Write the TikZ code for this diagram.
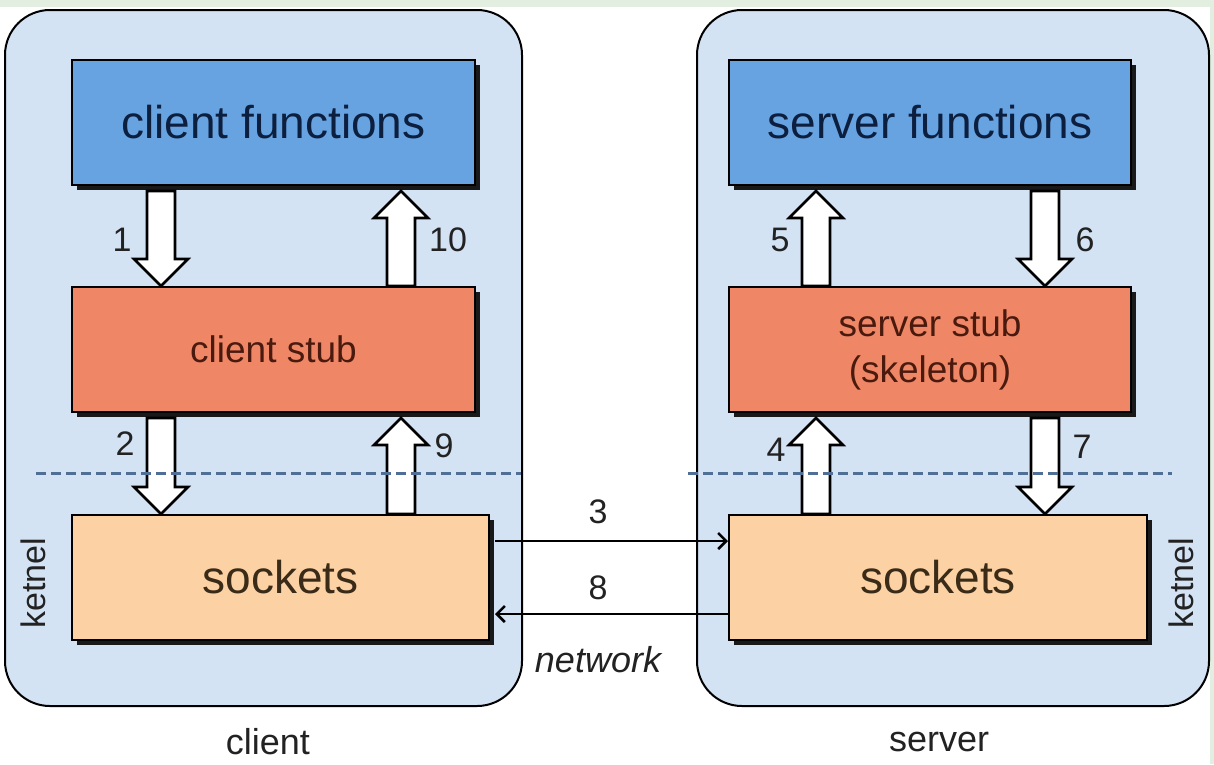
\documentclass[tikz,border=0pt]{standalone}
\usepackage{fontspec}
\setmainfont{Liberation Sans}
\usetikzlibrary{calc,shadows,arrows.meta}
\definecolor{contfill}{HTML}{D4E3F4}
\definecolor{funcfill}{HTML}{67A3E1}
\definecolor{stubfill}{HTML}{EF8767}
\definecolor{sockfill}{HTML}{FCD1A3}
\definecolor{functext}{HTML}{0D1F3F}
\definecolor{stubtext}{HTML}{4A1A0E}
\definecolor{socktext}{HTML}{3A2A18}
\definecolor{labeltext}{HTML}{222222}
\definecolor{dashcol}{HTML}{4F6F96}
\definecolor{topband}{HTML}{E2EFE0}
\newcommand\blkdown[2]{\draw[blk] let \p1=(#1), \p2=(#2) in
  (\x1-14pt,\y1) -- (\x1+14pt,\y1) -- (\x1+14pt,\y2+27pt) -- (\x1+27pt,\y2+27pt)
  -- (\x1,\y2) -- (\x1-27pt,\y2+27pt) -- (\x1-14pt,\y2+27pt) -- cycle;}
\newcommand\blkup[2]{\draw[blk] let \p1=(#1), \p2=(#2) in
  (\x1-14pt,\y1) -- (\x1+14pt,\y1) -- (\x1+14pt,\y2-27pt) -- (\x1+27pt,\y2-27pt)
  -- (\x1,\y2) -- (\x1-27pt,\y2-27pt) -- (\x1-14pt,\y2-27pt) -- cycle;}
\begin{document}
\begin{tikzpicture}[x=1pt,y=-1pt,
  container/.style={draw=black, line width=2pt, fill=contfill, rounded corners=45pt, inner sep=0pt},
  box/.style={draw=black, line width=2pt, inner sep=0pt, minimum height=125pt,
    drop shadow={shadow xshift=5pt, shadow yshift=-5pt, fill=black!90, opacity=1}},
  funcbox/.style={box, fill=funcfill, text=functext, minimum width=403pt, font=\fontsize{46}{52}\selectfont},
  stubbox/.style={box, fill=stubfill, text=stubtext, minimum width=403pt, align=center, font=\fontsize{37}{46}\selectfont},
  sockbox/.style={box, fill=sockfill, text=socktext, minimum width=417pt, font=\fontsize{46}{52}\selectfont},
  blk/.style={draw=black, line width=2.6pt, fill=white, line join=miter},
  num/.style={text=labeltext, font=\fontsize{34}{38}\selectfont, inner sep=0pt},
  lbl/.style={text=labeltext, font=\fontsize{36}{40}\selectfont, inner sep=0pt},
  kernel/.style={lbl, rotate=90, font=\fontsize{34}{38}\selectfont},
  netarrow/.style={draw=black, line width=2.6pt, -{Straight Barb[length=8pt,width=16pt,line width=2.6pt]}},
  divider/.style={draw=dashcol, line width=3pt, dash pattern=on 10pt off 5pt}
]
\useasboundingbox (0,0) rectangle (1214,764);
\fill[topband] (0,0) rectangle (1214,7);
\fill[topband] (1210,0) rectangle (1214,764);

% containers
\node[container, minimum width=517pt, minimum height=696pt] (cc) at (263.5,358) {};
\node[container, minimum width=512pt, minimum height=696pt] (sc) at (953,358) {};

% client boxes
\node[funcbox] (cf) at (273.5,122.5) {client functions};
\node[stubbox] (cs) at (273.5,349.5) {client stub};
\node[sockbox, minimum width=417pt] (csk) at (280.5,577.5) {sockets};

% server boxes
\node[funcbox, minimum width=402pt] (sf) at (930,122.5) {server functions};
\node[stubbox, minimum width=402pt] (ss) at (930,349.5) {server stub\\(skeleton)};
\node[sockbox, minimum width=418pt] (ssk) at (938,577.5) {sockets};

% block arrows client
\blkdown{$(cf.south west)+(90,5)$}{$(cs.north west)+(90,0)$}
\blkup{$(cs.north west)+(330,0)$}{$(cf.south west)+(330,5)$}
\blkdown{$(cs.south west)+(90,5)$}{$(csk.north west)+(90,0)$}
\blkup{$(csk.north west)+(330,0)$}{$(cs.south west)+(330,5)$}

% block arrows server
\blkup{$(ss.north west)+(88,0)$}{$(sf.south west)+(88,5)$}
\blkdown{$(sf.south west)+(317,5)$}{$(ss.north west)+(317,0)$}
\blkup{$(ssk.north west)+(88,0)$}{$(ss.south west)+(88,5)$}
\blkdown{$(ss.south west)+(317,5)$}{$(ssk.north west)+(317,0)$}

% dashed kernel boundaries
\draw[divider] (36,473) -- (521,473);
\draw[divider] (688,473) -- (1172,473);

% network arrows
\draw[netarrow] ($(csk.north east)+(5,27)$) -- ($(ssk.north west)+(0,27)$);
\draw[netarrow] ($(ssk.north west)+(0,100)$) -- ($(csk.north east)+(5,100)$);

% numbers
\node[num] (n1) at (122,240) {1};
\node[num] (n10) at (448,240) {10};
\node[num] (n2) at (125,444) {2};
\node[num] (n9) at (444,446) {9};
\node[num] (n5) at (780,240) {5};
\node[num] (n6) at (1085,240) {6};
\node[num] (n4) at (776,450) {4};
\node[num] (n7) at (1082,447) {7};
\node[num] (n3) at (598,512) {3};
\node[num] (n8) at (598,588) {8};
\node[lbl, font=\fontsize{36}{40}\selectfont\itshape] (net) at (598,660) {network};

\node[kernel] (kc) at (33,583) {ketnel};
\node[kernel] (ks) at (1181,583) {ketnel};

\node[lbl] (cl) at (268,742) {client};
\node[lbl] (sl) at (939,742) {server};
\end{tikzpicture}
\end{document}
